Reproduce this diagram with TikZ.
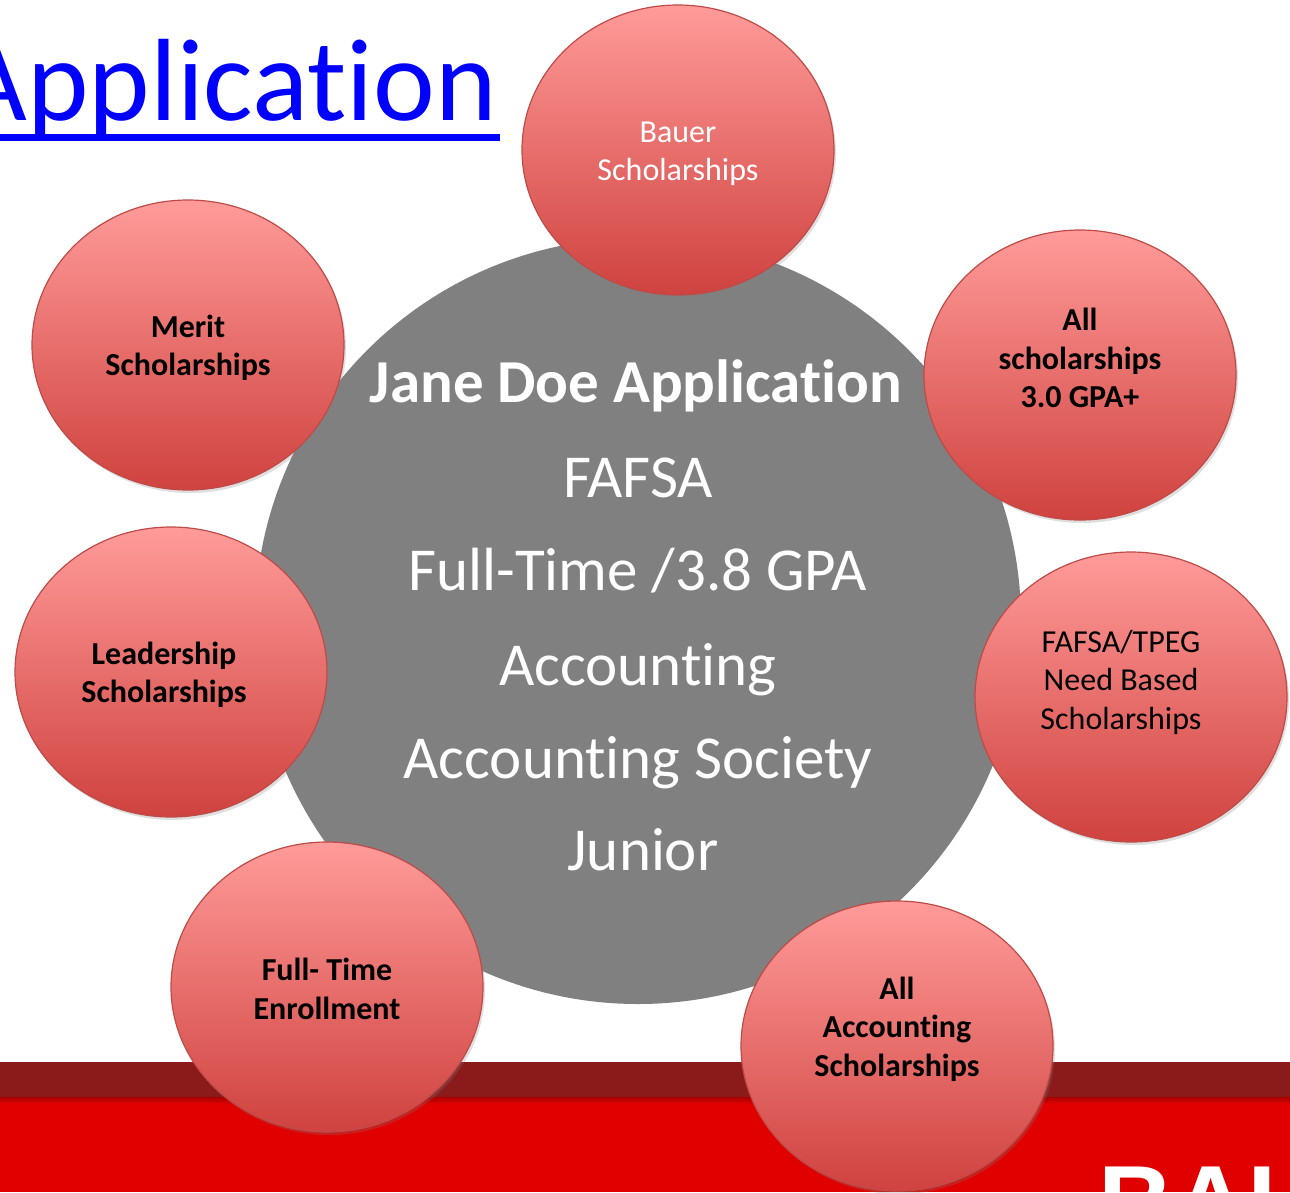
\documentclass[tikz,border=0pt]{standalone}
\usepackage{fontspec}
\setmainfont{Carlito}[Ligatures={NoCommon,NoContextual}]
\newfontfamily\bauerfont{Liberation Sans}
\usetikzlibrary{shapes.geometric,shadows}
\definecolor{bandDark}{HTML}{8B1A1A}
\definecolor{bandRed}{HTML}{E00000}
\definecolor{hubGray}{HTML}{808080}
\definecolor{bubTop}{HTML}{FF9B99}
\definecolor{bubBot}{HTML}{CF423F}
\definecolor{bubEdge}{HTML}{BE4B48}
\definecolor{linkBlue}{HTML}{0000FF}
\begin{document}
\begin{tikzpicture}[x=1pt,y=-1pt,
  bubble/.style={ellipse, draw=bubEdge, line width=1.2pt, top color=bubTop, bottom color=bubBot,
    minimum width=312pt, minimum height=290pt, inner sep=0pt,
    drop shadow={opacity=0.25, shadow xshift=2pt, shadow yshift=-3pt}},
  bublbl/.style={inner sep=0pt, align=center, font=\fontsize{32}{38.5}\selectfont},
  boldlbl/.style={bublbl, font=\fontsize{32}{38.5}\selectfont\bfseries},
  hubline/.style={inner sep=0pt, anchor=base, text=white, font=\fontsize{61}{70}\selectfont}
]
\clip (0,0) rectangle (1290,1192);
\fill[white] (0,0) rectangle (1290,1192);
% bottom bands
\fill[bandDark] (0,1062) rectangle (1290,1097);
\fill[bandRed] (0,1097) rectangle (1290,1192);
\shade[top color=bandRed!75!black, bottom color=bandRed] (0,1097) rectangle (1290,1104);
\node[inner sep=0pt, anchor=base west, text=white, font=\fontsize{104}{110}\selectfont\bauerfont\bfseries] (brand) at (1098,1238) {BAUER};
% title
\node[inner sep=0pt, anchor=base east, text=linkBlue, font=\fontsize{117}{120}\selectfont] (title) at (497,120) {Application};
\draw[linkBlue, line width=7pt] ([yshift=-17.5pt]title.base west) -- ([yshift=-17.5pt, xshift=3pt]title.base east);
% hub
\node[circle, fill=hubGray, minimum size=766pt, inner sep=0pt] (hub) at (638,621) {};
\node[hubline, font=\fontsize{61}{70}\selectfont\bfseries] (h1) at (636,402) {Jane Doe Application};
\node[hubline] (h2) at (638,497) {FAFSA};
\node[hubline] (h3) at (638,590) {Full-Time /3.8 GPA};
\node[hubline] (h4) at (638,685) {Accounting};
\node[hubline] (h5) at (638,778) {Accounting Society};
\node[hubline] (h6) at (643,870) {Junior};
% satellites
\node[bubble] (bauer) at (678,150) {};
\node[bubble] (merit) at (188,345) {};
\node[bubble] (gpa) at (1080,375) {};
\node[bubble] (lead) at (171,672) {};
\node[bubble] (need) at (1131,697) {};
\node[bubble] (full) at (327,987) {};
\node[bubble] (acct) at (897,1046) {};
% labels
\node[bublbl, text=white] (bauerT) at (678,154) {Bauer\\Scholarships};
\node[boldlbl] (meritT) at (188,348) {Merit\\Scholarships};
\node[boldlbl] (gpaT) at (1080,358) {All\\scholarships\\3.0 GPA+};
\node[boldlbl] (leadT) at (164,675) {Leadership\\Scholarships};
\node[bublbl] (needT) at (1121,682) {FAFSA/TPEG\\Need Based\\Scholarships};
\node[boldlbl] (fullT) at (327,989) {Full- Time\\Enrollment};
\node[boldlbl] (acctT) at (897,1029) {All\\Accounting\\Scholarships};
\end{tikzpicture}
\end{document}
